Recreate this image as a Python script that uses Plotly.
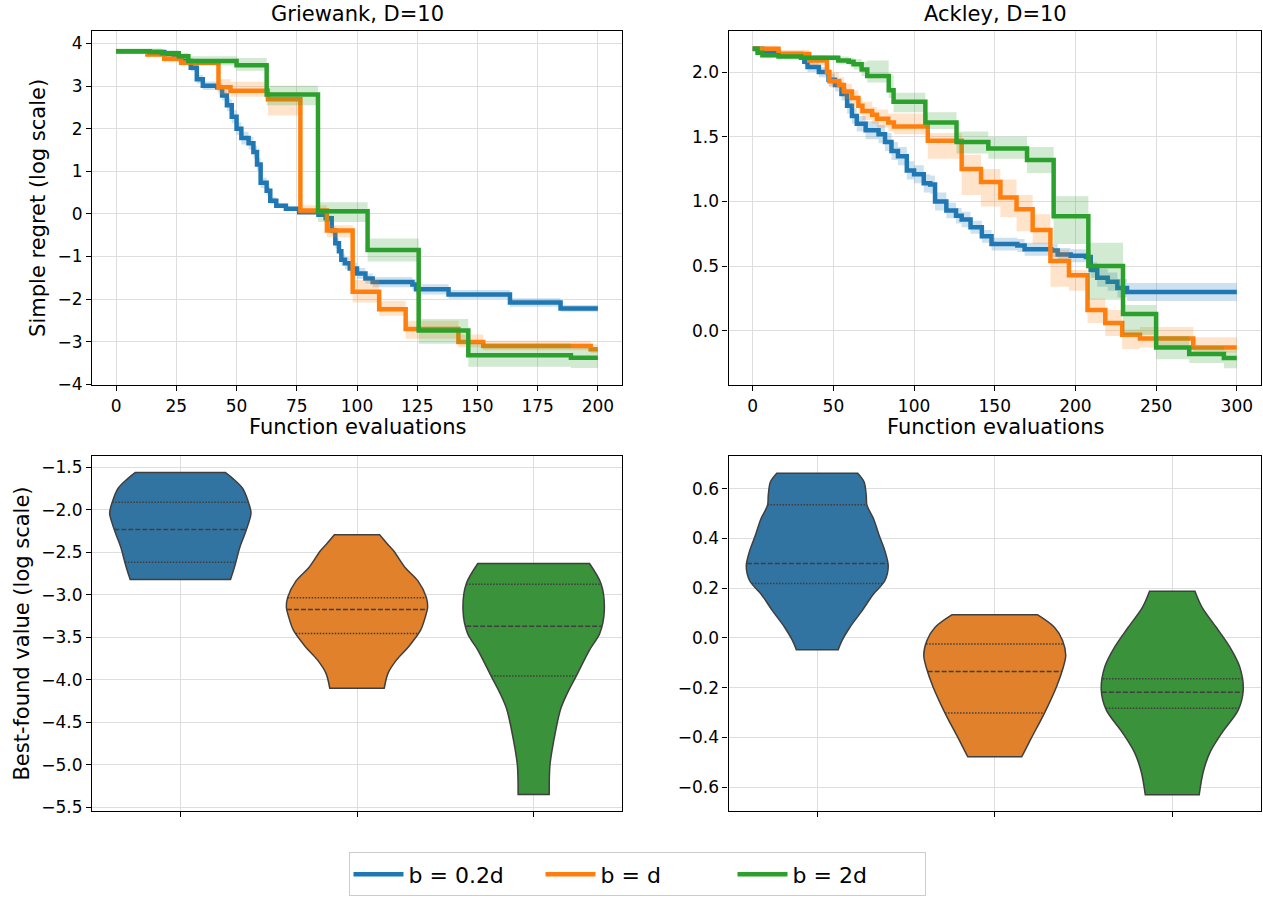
import numpy as np
import plotly.graph_objects as go

# ---------------- data ----------------
LABELS = ["b = 0.2d", "b = d", "b = 2d"]
COLORS = ["#1f77b4", "#ff7f0e", "#2ca02c"]
BANDS = ["rgba(31,119,180,0.22)", "rgba(255,127,14,0.22)", "rgba(44,160,44,0.22)"]
VCOLORS = ["#3274a1", "#e1812c", "#3a923a"]
CATS = [0, 1, 2]

# Griewank, D=10  (step curves: x = evaluation where the value changes)
GR_BLUE_X = [0, 14, 20, 24, 27, 31, 33.5, 36, 42, 44, 46, 48, 50, 52, 55, 57, 58.5, 60, 62.5, 64,
             66.5, 70.5, 76, 84, 87, 89.5, 91, 92.5, 93.5, 95, 97, 100, 103.5, 106.5, 123, 124.5,
             138, 163.5, 184.5, 200]
GR_BLUE_Y = [3.82, 3.80, 3.75, 3.67, 3.59, 3.43, 3.16, 3.01, 2.97, 2.78, 2.55, 2.28, 2.00, 1.78,
             1.66, 1.45, 1.16, 0.73, 0.54, 0.31, 0.19, 0.12, 0.04, -0.02, -0.10, -0.39, -0.69,
             -0.88, -1.08, -1.16, -1.28, -1.40, -1.52, -1.60, -1.66, -1.77, -1.89, -2.08, -2.22, -2.22]
GR_BLUE_HW = [0.03, 0.04, 0.05, 0.06, 0.06, 0.08, 0.10, 0.10, 0.10, 0.12, 0.14, 0.15, 0.15, 0.15,
              0.15, 0.15, 0.15, 0.12, 0.10, 0.08, 0.06, 0.05, 0.04, 0.04, 0.06, 0.10, 0.12, 0.14,
              0.14, 0.14, 0.13, 0.13, 0.12, 0.12, 0.12, 0.12, 0.10, 0.10, 0.08, 0.08]

GR_ORANGE_X = [0, 13, 20, 27, 42.5, 47.5, 63, 76.5, 87.5, 98.2, 109.2, 120.2, 142.1, 152.4, 197, 200]
GR_ORANGE_Y = [3.82, 3.74, 3.64, 3.55, 2.97, 2.89, 2.69, 0.08, -0.39, -1.83, -2.24, -2.70, -3.01,
               -3.10, -3.18, -3.18]
GR_ORANGE_LO = [3.78, 3.68, 3.56, 3.48, 2.80, 2.75, 2.31, -0.02, -0.55, -2.08, -2.39, -2.93, -3.13,
                -3.20, -3.27, -3.27]
GR_ORANGE_HI = [3.86, 3.80, 3.72, 3.62, 3.16, 3.10, 2.85, 0.20, -0.27, -1.55, -2.04, -2.51, -2.83,
                -2.98, -3.06, -3.06]

GR_GREEN_X = [0, 14, 19, 26, 30, 50, 62.5, 83.8, 104.4, 125.6, 146.2, 188.8, 200]
GR_GREEN_Y = [3.82, 3.80, 3.77, 3.70, 3.59, 3.49, 2.80, 0.06, -0.85, -2.74, -3.32, -3.38, -3.38]
GR_GREEN_LO = [3.77, 3.74, 3.70, 3.62, 3.48, 3.36, 2.55, -0.19, -1.12, -3.05, -3.59, -3.62, -3.62]
GR_GREEN_HI = [3.88, 3.88, 3.84, 3.78, 3.70, 3.66, 3.01, 0.27, -0.58, -2.47, -3.04, -3.15, -3.15]

# Ackley, D=10
AC_BLUE_X = [0, 6, 16, 30, 32, 34, 41, 47, 51, 55, 58.5, 61.5, 64.5, 70, 78, 82, 86, 90, 95.5, 100,
             106, 110, 113, 120, 126, 129.5, 135, 142, 148, 164, 168.5, 185, 189, 197, 206.5, 209.5,
             213.5, 220, 226, 232, 300]
AC_BLUE_Y = [2.18, 2.16, 2.14, 2.13, 2.08, 2.04, 2.00, 1.94, 1.90, 1.83, 1.74, 1.66, 1.60, 1.55,
             1.52, 1.46, 1.39, 1.35, 1.24, 1.21, 1.14, 1.13, 1.00, 0.93, 0.89, 0.86, 0.80, 0.73,
             0.67, 0.66, 0.63, 0.62, 0.59, 0.58, 0.57, 0.47, 0.41, 0.38, 0.33, 0.30, 0.30]
AC_BLUE_HW = [0.02, 0.02, 0.02, 0.03, 0.03, 0.04, 0.04, 0.05, 0.05, 0.05, 0.06, 0.06, 0.06, 0.07,
              0.07, 0.07, 0.07, 0.07, 0.07, 0.07, 0.07, 0.07, 0.07, 0.06, 0.06, 0.06, 0.05, 0.05,
              0.05, 0.05, 0.05, 0.05, 0.05, 0.05, 0.05, 0.06, 0.07, 0.07, 0.07, 0.07, 0.07]

AC_ORANGE_X = [0, 16, 35, 46, 47.5, 53.5, 56.5, 61.5, 65.5, 68, 74, 77, 84, 87.5, 108.5, 129.5,
               141.5, 153.5, 163.5, 173.5, 184.5, 196, 207.5, 218.5, 229, 240, 273, 300]
AC_ORANGE_Y = [2.18, 2.14, 2.09, 2.00, 1.93, 1.90, 1.85, 1.80, 1.74, 1.70, 1.67, 1.64, 1.61, 1.58,
               1.47, 1.25, 1.15, 1.03, 0.94, 0.78, 0.54, 0.43, 0.16, 0.06, -0.03, -0.06, -0.13, -0.13]
AC_ORANGE_LO = [2.16, 2.11, 2.05, 1.96, 1.88, 1.85, 1.79, 1.73, 1.67, 1.63, 1.60, 1.57, 1.54, 1.52,
                1.33, 1.05, 0.96, 0.88, 0.77, 0.67, 0.34, 0.31, 0.06, -0.04, -0.14, -0.13, -0.17, -0.17]
AC_ORANGE_HI = [2.20, 2.17, 2.13, 2.05, 2.00, 1.96, 1.91, 1.86, 1.80, 1.77, 1.73, 1.71, 1.68, 1.68,
                1.53, 1.36, 1.25, 1.17, 1.05, 0.90, 0.63, 0.47, 0.25, 0.16, 0.01, 0.03, -0.05, -0.05]

AC_GREEN_X = [0, 3, 6, 16, 30, 53, 59.5, 62.5, 67.5, 71, 84.3, 87.3, 107, 126.3, 146, 170, 186.5,
              208, 229.5, 250, 270.5, 292, 300]
AC_GREEN_Y = [2.18, 2.15, 2.13, 2.12, 2.11, 2.09, 2.08, 2.06, 2.02, 1.97, 1.86, 1.77, 1.61, 1.46,
              1.41, 1.32, 0.885, 0.50, 0.13, -0.13, -0.18, -0.21, -0.21]
AC_GREEN_LO = [2.16, 2.13, 2.11, 2.10, 2.09, 2.06, 2.05, 2.02, 1.97, 1.92, 1.80, 1.69, 1.56, 1.37,
               1.33, 1.22, 0.67, 0.24, -0.03, -0.22, -0.25, -0.29, -0.29]
AC_GREEN_HI = [2.20, 2.17, 2.15, 2.14, 2.13, 2.12, 2.11, 2.10, 2.08, 2.09, 1.98, 1.84, 1.69, 1.54,
               1.50, 1.42, 1.04, 0.68, 0.20, -0.04, -0.12, -0.15, -0.15]

# Violin density profiles (value, relative width) and quartiles (upper, median, lower)
GR_V_BLUE_VALS = [-1.558, -1.628, -1.745, -1.90, -2.036, -2.17, -2.288, -2.444, -2.60, -2.716, -2.817]
GR_V_BLUE_REL = [0.635, 0.74, 0.88, 0.96, 1.0, 0.96, 0.91, 0.84, 0.79, 0.75, 0.71]
GR_V_BLUE_Q = [-1.908, -2.230, -2.615]
GR_V_ORANGE_VALS = [-2.292, -2.40, -2.483, -2.677, -2.832, -3.026, -3.14, -3.25, -3.415, -3.609,
                    -3.764, -3.92, -4.098]
GR_V_ORANGE_REL = [0.32, 0.43, 0.52, 0.68, 0.86, 0.98, 1.0, 0.97, 0.90, 0.73, 0.56, 0.44, 0.385]
GR_V_ORANGE_Q = [-3.034, -3.170, -3.453]
GR_V_GREEN_VALS = [-2.630, -2.871, -3.18, -3.453, -3.648, -3.958, -4.15, -4.347, -4.735, -5.007, -5.348]
GR_V_GREEN_REL = [0.79, 0.955, 1.0, 0.935, 0.79, 0.60, 0.48, 0.38, 0.28, 0.23, 0.22]
GR_V_GREEN_Q = [-2.875, -3.368, -3.954]

AC_V_BLUE_VALS = [0.662, 0.627, 0.573, 0.534, 0.481, 0.414, 0.348, 0.288, 0.229, 0.176, 0.109,
                  0.043, -0.010, -0.047]
AC_V_BLUE_REL = [0.57, 0.66, 0.69, 0.70, 0.79, 0.87, 0.955, 1.0, 0.95, 0.79, 0.63, 0.46, 0.35, 0.295]
AC_V_BLUE_Q = [0.536, 0.299, 0.219]
AC_V_ORANGE_VALS = [0.0935, 0.043, -0.010, -0.070, -0.123, -0.196, -0.302, -0.408, -0.478]
AC_V_ORANGE_REL = [0.60, 0.84, 0.955, 1.0, 0.96, 0.87, 0.70, 0.505, 0.38]
AC_V_ORANGE_Q = [-0.0245, -0.135, -0.302]
AC_V_GREEN_VALS = [0.188, 0.123, 0.043, -0.036, -0.116, -0.209, -0.289, -0.381, -0.461, -0.540, -0.630]
AC_V_GREEN_REL = [0.32, 0.42, 0.62, 0.81, 0.95, 1.0, 0.93, 0.70, 0.53, 0.435, 0.38]
AC_V_GREEN_Q = [-0.164, -0.218, -0.283]

VIOLIN_WIDTH = 0.8

# ---------------- figure ----------------
W, H = 1263, 901
fig = go.Figure()


def add_curve(xa, ya, x, y, lo, hi, i, showlegend):
    fig.add_trace(go.Scatter(x=x, y=hi, mode="lines", line=dict(width=0, shape="hv"),
                             hoverinfo="skip", showlegend=False, xaxis=xa, yaxis=ya))
    fig.add_trace(go.Scatter(x=x, y=lo, mode="lines", line=dict(width=0, shape="hv"),
                             fill="tonexty", fillcolor=BANDS[i], hoverinfo="skip",
                             showlegend=False, xaxis=xa, yaxis=ya))
    fig.add_trace(go.Scatter(x=x, y=y, mode="lines", line=dict(color=COLORS[i], width=4.5, shape="hv"),
                             name=LABELS[i], legendgroup=LABELS[i], showlegend=showlegend,
                             xaxis=xa, yaxis=ya))


def sym(mean, hw):
    m = np.array(mean)
    h = np.array(hw)
    return list(m - h), list(m + h)


lo, hi = sym(GR_BLUE_Y, GR_BLUE_HW)
add_curve("x", "y", GR_BLUE_X, GR_BLUE_Y, lo, hi, 0, True)
add_curve("x", "y", GR_ORANGE_X, GR_ORANGE_Y, GR_ORANGE_LO, GR_ORANGE_HI, 1, True)
add_curve("x", "y", GR_GREEN_X, GR_GREEN_Y, GR_GREEN_LO, GR_GREEN_HI, 2, True)

lo, hi = sym(AC_BLUE_Y, AC_BLUE_HW)
add_curve("x2", "y2", AC_BLUE_X, AC_BLUE_Y, lo, hi, 0, False)
add_curve("x2", "y2", AC_ORANGE_X, AC_ORANGE_Y, AC_ORANGE_LO, AC_ORANGE_HI, 1, False)
add_curve("x2", "y2", AC_GREEN_X, AC_GREEN_Y, AC_GREEN_LO, AC_GREEN_HI, 2, False)


def add_violin(xa, ya, c, vals, rel, q, i):
    vals = np.array(vals)
    half = np.array(rel) * VIOLIN_WIDTH / 2
    n = len(vals)
    right = [(c + half[k], vals[k]) for k in range(n)]
    left = [(c - half[k], vals[k]) for k in range(n)][::-1]
    # corners duplicated so the smoothed outline keeps sharp corners and flat ends
    pts = [right[0]] + right + [right[-1]] + [left[0]] + left + [left[-1], right[0], right[0]]
    xs = [p[0] for p in pts]
    ys = [p[1] for p in pts]
    fig.add_trace(go.Scatter(x=xs, y=ys, mode="lines", fill="toself", fillcolor=VCOLORS[i],
                             line=dict(color="#3f3f3f", width=1.5, shape="spline", smoothing=0.9,
                                       simplify=False),
                             hoverinfo="skip", showlegend=False, xaxis=xa, yaxis=ya))
    order = np.argsort(vals)
    for k, qv in enumerate(q):
        hw = np.interp(qv, vals[order], half[order])
        fig.add_trace(go.Scatter(x=[c - hw, c + hw], y=[qv, qv], mode="lines",
                                 line=dict(color="#3f3f3f", width=1.5,
                                           dash="5px,2px" if k == 1 else "1.5px,1.5px"),
                                 hoverinfo="skip", showlegend=False, xaxis=xa, yaxis=ya))


add_violin("x3", "y3", CATS[0], GR_V_BLUE_VALS, GR_V_BLUE_REL, GR_V_BLUE_Q, 0)
add_violin("x3", "y3", CATS[1], GR_V_ORANGE_VALS, GR_V_ORANGE_REL, GR_V_ORANGE_Q, 1)
add_violin("x3", "y3", CATS[2], GR_V_GREEN_VALS, GR_V_GREEN_REL, GR_V_GREEN_Q, 2)
add_violin("x4", "y4", CATS[0], AC_V_BLUE_VALS, AC_V_BLUE_REL, AC_V_BLUE_Q, 0)
add_violin("x4", "y4", CATS[1], AC_V_ORANGE_VALS, AC_V_ORANGE_REL, AC_V_ORANGE_Q, 1)
add_violin("x4", "y4", CATS[2], AC_V_GREEN_VALS, AC_V_GREEN_REL, AC_V_GREEN_Q, 2)

# ---------------- layout ----------------
LX = [92 / W, 622 / W]
RX = [728.5 / W, 1261 / W]
TY = [1 - 389 / H, 1 - 31 / H]
BY = [1 - 819 / H, 1 - 461 / H]

ax = dict(showline=True, linecolor="black", linewidth=1.2, mirror=True, ticks="outside",
          ticklen=5, tickwidth=1.1, tickcolor="black", showgrid=True, gridcolor="#dedede",
          gridwidth=1, zeroline=False, tickfont=dict(size=17, color="black"))

fig.update_layout(
    width=W, height=H, autosize=False,
    margin=dict(l=0, r=0, t=0, b=0),
    paper_bgcolor="white", plot_bgcolor="white",
    font=dict(family="DejaVu Sans", color="black"),
    xaxis=dict(ax, domain=LX, anchor="y", range=[-10, 210], tick0=0, dtick=25),
    yaxis=dict(ax, domain=TY, anchor="x", range=[-4.02, 4.3], tick0=0, dtick=1),
    xaxis2=dict(ax, domain=RX, anchor="y2", range=[-15, 315], tick0=0, dtick=50),
    yaxis2=dict(ax, domain=TY, anchor="x2", range=[-0.42, 2.32], tick0=0, dtick=0.5, tickformat=".1f"),
    xaxis3=dict(ax, domain=LX, anchor="y3", range=[-0.5, 2.5], tickvals=CATS, ticktext=["", "", ""]),
    yaxis3=dict(ax, domain=BY, anchor="x3", range=[-5.54, -1.37], tick0=0, dtick=0.5, tickformat=".1f"),
    xaxis4=dict(ax, domain=RX, anchor="y4", range=[-0.5, 2.5], tickvals=CATS, ticktext=["", "", ""]),
    yaxis4=dict(ax, domain=BY, anchor="x4", range=[-0.695, 0.73], tick0=0, dtick=0.2, tickformat=".1f"),
    legend=dict(orientation="h", x=637 / W, xanchor="center", y=1 - 861 / H, yanchor="top",
                bordercolor="#cccccc", borderwidth=1, bgcolor="white",
                font=dict(size=22, color="black"), itemwidth=50,
                entrywidth=127, entrywidthmode="pixels"),
)

ann = []
ann.append(dict(text="Griewank, D=10", x=357 / W, y=1 - 14 / H, font=dict(size=21)))
ann.append(dict(text="Ackley, D=10", x=995 / W, y=1 - 14 / H, font=dict(size=21)))
ann.append(dict(text="Function evaluations", x=357 / W, y=1 - 431 / H, font=dict(size=21)))
ann.append(dict(text="Function evaluations", x=995 / W, y=1 - 431 / H, font=dict(size=21)))
ann.append(dict(text="Simple regret (log scale)", x=38 / W, y=1 - 210 / H, textangle=-90,
                font=dict(size=21)))
ann.append(dict(text="Best-found value (log scale)", x=22 / W, y=1 - 640 / H, textangle=-90,
                font=dict(size=21)))
for a in ann:
    a.update(xref="paper", yref="paper", xanchor="center", yanchor="middle", showarrow=False)
fig.update_layout(annotations=ann)

fig.write_html("out.html")
